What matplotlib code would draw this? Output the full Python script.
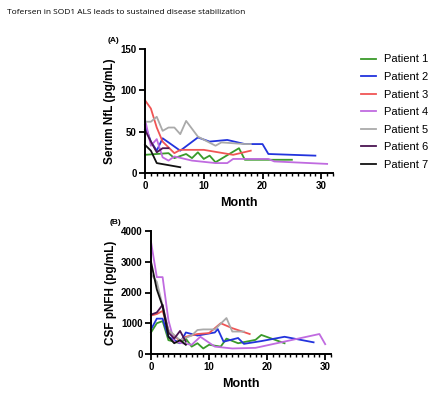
import matplotlib
matplotlib.use("Agg")
import matplotlib.pyplot as plt
from matplotlib.ticker import MultipleLocator

plt.rcParams["font.family"] = ["Liberation Sans", "DejaVu Sans"]

title = "Tofersen in SOD1 ALS leads to sustained disease stabilization"
patients = ["Patient 1", "Patient 2", "Patient 3", "Patient 4", "Patient 5", "Patient 6", "Patient 7"]
colors = ["#3a9a2a", "#2233dd", "#f05555", "#c06be0", "#aaaaaa", "#4b1552", "#111111"]

# Panel A: Serum NfL (pg/mL)
nfl_x = [
    [0, 4, 5, 7, 8, 9, 10, 11, 12, 16, 17, 25],
    [0, 1, 2, 3, 6, 9, 11, 14, 17, 20, 21, 29],
    [0, 1, 2, 3, 5, 6, 10, 15, 18],
    [0, 1, 2, 3, 4, 5, 8, 12, 14, 15, 21, 22, 31],
    [0, 1, 2, 3, 4, 5, 6, 7, 9, 12, 13, 17, 18],
    [0, 1, 2, 3, 4],
    [0, 1, 2, 6],
]
nfl_y = [
    [22, 24, 18, 23, 18, 25, 17, 21, 13, 30, 16, 16],
    [58, 38, 27, 42, 27, 43, 38, 40, 35, 35, 23, 21],
    [88, 78, 55, 38, 24, 28, 28, 22, 27],
    [65, 33, 41, 19, 15, 20, 15, 12, 12, 17, 17, 14, 11],
    [62, 62, 68, 51, 55, 55, 47, 63, 44, 33, 37, 35, 35],
    [52, 38, 25, 30, 30],
    [34, 27, 12, 7],
]

# Panel B: CSF pNFH (pg/mL)
pnfh_x = [
    [0, 1, 2, 3, 5, 6, 7, 8, 9, 10, 12, 13, 15, 18, 19, 23],
    [0, 1, 2, 3, 5, 6, 8, 11, 11.5, 12.5, 15, 16, 19, 23, 28],
    [0, 1, 2, 3, 5, 6, 8, 10, 12, 14, 17],
    [0, 1, 2, 3, 4, 6, 7, 8.5, 11, 14, 18, 29, 30],
    [0, 1, 3, 5, 7, 8, 9, 11, 13, 14, 16],
    [0, 1, 2, 3, 4, 5, 6],
    [0, 1, 2, 3, 4, 5, 6],
]
pnfh_y = [
    [700, 1000, 1070, 450, 350, 500, 240, 350, 180, 300, 240, 500, 350, 460, 620, 350],
    [800, 1150, 1150, 560, 350, 700, 600, 700, 810, 400, 520, 330, 420, 560, 380],
    [1250, 1300, 1400, 780, 420, 560, 650, 680, 1000, 840, 650],
    [3650, 2500, 2500, 1100, 400, 330, 300, 560, 240, 180, 200, 650, 320],
    [2600, 2350, 780, 450, 600, 780, 800, 800, 1170, 730, 730],
    [1280, 1350, 1600, 700, 500, 750, 400],
    [3000, 2100, 1550, 560, 350, 450, 300],
]

W, H = 429, 395
fig = plt.figure(figsize=(W / 100, H / 100), dpi=100)

fig.text(7 / W, 1 - 13 / H, title, fontsize=6, family="Open Sans", va="center", ha="left")


def style(ax, xmax, ymax, ystep):
    for s in ["top", "right"]:
        ax.spines[s].set_visible(False)
    for s in ["left", "bottom"]:
        ax.spines[s].set_linewidth(1.4)
    ax.set_xlim(0, xmax)
    ax.set_ylim(0, ymax)
    ax.xaxis.set_major_locator(MultipleLocator(10))
    ax.xaxis.set_minor_locator(MultipleLocator(1))
    ax.yaxis.set_major_locator(MultipleLocator(ystep))
    ax.tick_params(axis="both", which="major", direction="out", length=4, width=1.3,
                   labelsize=7, pad=2)
    ax.tick_params(axis="x", which="minor", direction="out", length=2.2, width=1.0)
    for lab in ax.get_xticklabels() + ax.get_yticklabels():
        lab.set_fontweight("bold")
    ax.spines["left"].set_bounds(0, ymax)
    ax.spines["bottom"].set_bounds(0, xmax)


# Panel A
axA = fig.add_axes([145 / W, 1 - 173 / H, 188 / W, 124 / H])
handles = []
for i in range(7):
    h, = axA.plot(nfl_x[i], nfl_y[i], color=colors[i], lw=1.3, label=patients[i], clip_on=False)
    handles.append(h)
style(axA, 32, 150, 50)
axA.set_ylabel("Serum NfL (pg/mL)", fontsize=8.5, fontweight="bold", labelpad=3)
axA.set_xlabel("Month", fontsize=9, fontweight="bold", labelpad=4)
fig.text(108 / W, 1 - 41 / H, "(A)", fontsize=6, fontweight="bold", va="center")

# Panel B
axB = fig.add_axes([151 / W, 1 - 354 / H, 180 / W, 123 / H])
for i in range(7):
    axB.plot(pnfh_x[i], pnfh_y[i], color=colors[i], lw=1.3, clip_on=False)
style(axB, 31, 4000, 1000)
axB.set_ylabel("CSF pNFH (pg/mL)", fontsize=8.5, fontweight="bold", labelpad=3)
axB.set_xlabel("Month", fontsize=9, fontweight="bold", labelpad=4)
fig.text(110 / W, 1 - 222 / H, "(B)", fontsize=6, fontweight="bold", va="center")

fig.legend(handles=handles, loc="upper left", bbox_to_anchor=(357 / W, 1 - 50 / H),
           frameon=False, fontsize=8, handlelength=1.3, handletextpad=0.7,
           labelspacing=0.68, borderaxespad=0)

fig.savefig("out.png", dpi=100)
